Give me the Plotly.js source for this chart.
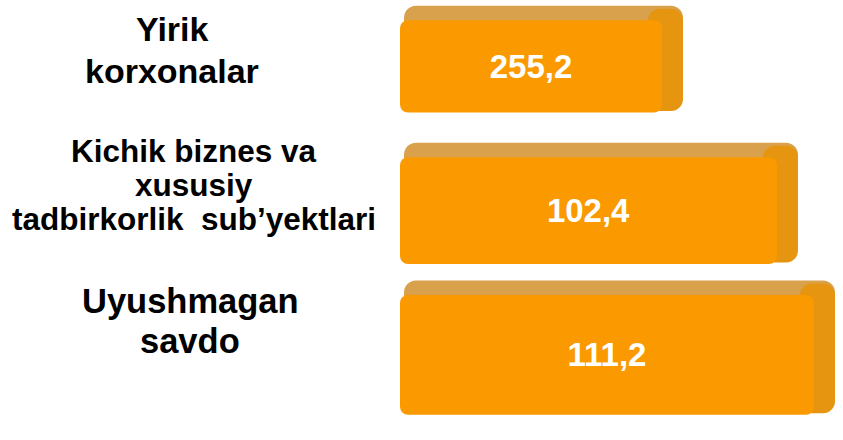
<!DOCTYPE html>
<html>
<head>
<meta charset="utf-8">
<script src="https://cdn.plot.ly/plotly-3.0.1.min.js"></script>
<style>
  html, body { margin: 0; padding: 0; background: #ffffff; }
  #chart { width: 843px; height: 440px; }
</style>
</head>
<body>
<div id="chart"></div>
<script>
// ---- data ----
const categories = [
  "Yirik<br>korxonalar",
  "Kichik biznes va<br>xususiy<br>tadbirkorlik\u00A0 sub\u2019yektlari",
  "Uyushmagan<br>savdo"
];
const values = [255.2, 102.4, 111.2];          // printed values
const barLength = [262, 377, 414];             // drawn length of each bar as it appears (axis units)

// ---- styling ----
const W = 843, H = 440;
const pos = categories.map((c, i) => i);
const frontWidth = [0.64, 0.74, 0.83];
const depth = 0.1;
const sideDepth = 21;
const fontFamily = "Arial, 'Liberation Sans', sans-serif";

// top face (tan)
const topTrace = {
  type: "bar", orientation: "h",
  y: pos,
  x: barLength.map(v => v + sideDepth - 4),
  base: 4,
  width: frontWidth.map(w => w * 0.5 + depth),
  offset: frontWidth.map(w => -w / 2 - depth),
  marker: { color: "#D9A14C", cornerradius: 12, line: { width: 0 } },
  hoverinfo: "skip", showlegend: false
};

// right side face (darker orange)
const sideTrace = {
  type: "bar", orientation: "h",
  y: pos,
  x: barLength.map(v => sideDepth + 14),
  base: barLength.map(v => v - 14),
  width: frontWidth.map(w => w + depth * 0.7),
  offset: frontWidth.map(w => -w / 2 - depth * 0.8),
  marker: { color: "#E5950F", cornerradius: 12, line: { width: 0 } },
  hoverinfo: "skip", showlegend: false
};

const frontTrace = {
  type: "bar", orientation: "h",
  y: pos,
  x: barLength,
  base: 0,
  width: frontWidth,
  offset: frontWidth.map(w => -w / 2),
  marker: { color: "#FA9A00", cornerradius: 8, line: { width: 0 } },
  text: values.map(v => "<b>" + v.toFixed(1).replace(".", ",") + "</b>"),
  textposition: "inside",
  insidetextanchor: "middle",
  textangle: 0,
  constraintext: "none",
  textfont: { family: fontFamily, size: 33, color: "#ffffff" },
  hoverinfo: "skip", showlegend: false
};

// left labels: one annotation per line for control of line spacing
const labelStyle = [
  { size: 34, cx: 172, y0: 29, step: 42 },
  { size: 31.5, cx: 194, y0: 151, step: 34 },
  { size: 34.5, cx: 190, y0: 301, step: 40 }
];
const annotations = [];
categories.forEach((c, i) => {
  const st = labelStyle[i];
  c.split("<br>").forEach((line, j) => {
    annotations.push({
      xref: "paper", yref: "paper",
      x: st.cx / W, y: 1 - (st.y0 + j * st.step) / H,
      xanchor: "center", yanchor: "middle",
      text: "<b>" + line + "</b>",
      showarrow: false,
      font: { family: fontFamily, size: st.size, color: "#000000" }
    });
  });
});

const layout = {
  width: W, height: H,
  margin: { l: 0, r: 0, t: 0, b: 0 },
  paper_bgcolor: "#ffffff", plot_bgcolor: "#ffffff",
  barmode: "overlay",
  xaxis: { range: [-400, 443], visible: false, fixedrange: true },
  yaxis: { range: [2.59, -0.46], visible: false, fixedrange: true },
  annotations: annotations,
  showlegend: false
};

Plotly.newPlot("chart", [topTrace, sideTrace, frontTrace], layout, { staticPlot: true, displayModeBar: false });
</script>
</body>
</html>
